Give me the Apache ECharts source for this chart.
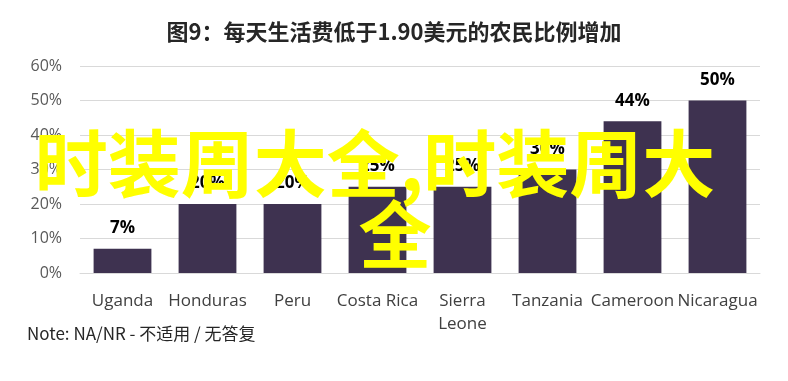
<!DOCTYPE html>
<html><head><meta charset="utf-8">
<script src="https://cdn.jsdelivr.net/npm/echarts@6/dist/echarts.min.js"></script>
<style>html,body{margin:0;padding:0;background:#fff}#c{width:788px;height:381px}</style>
</head><body><div id="c"></div>
<script>
const categories = ['Uganda','Honduras','Peru','Costa Rica','Sierra\nLeone','Tanzania','Cameroon','Nicaragua'];
const values = [7,20,20,25,25,30,44,50];
const yTicks = [0,10,20,30,40,50,60];
const titleText = '图9：每天生活费低于1.90美元的农民比例增加';
const noteText = 'Note: NA/NR - 不适用 / 无答复';
const watermark1 = '时装周大全,时装周大';
const watermark2 = '全';

const chart = echarts.init(document.getElementById('c'));
chart.setOption({
  animation:false,
  title:{text:titleText,left:'center',top:16,textStyle:{fontFamily:'Noto Sans CJK SC',fontSize:22,fontWeight:'bold',color:'#262626'}},
  grid:{left:80,right:28,top:66,bottom:108},
  xAxis:{type:'category',data:categories,
    axisLine:{lineStyle:{color:'#d9d9d9'}},axisTick:{show:false},
    axisLabel:{color:'#404040',fontFamily:'Liberation Sans Narrow, Open Sans',fontSize:17,lineHeight:23,margin:17,interval:0}},
  yAxis:{type:'value',min:yTicks[0],max:yTicks[yTicks.length-1],interval:10,
    axisLine:{show:false},axisTick:{show:false},
    splitLine:{lineStyle:{color:'#d9d9d9'}},
    axisLabel:{formatter:'{value}%',color:'#595959',fontFamily:'Open Sans',fontSize:16,margin:18}},
  series:[{type:'bar',data:values,barCategoryGap:'32%',itemStyle:{color:'#3e3250'},
    label:{show:true,position:'top',distance:12,formatter:'{c}%',color:'#000',fontFamily:'Open Sans',fontWeight:'bold',fontSize:17}}],
  graphic:[
    {type:'text',left:27,top:325,style:{text:noteText,fontFamily:'Noto Sans CJK SC',fontSize:17,fill:'#262626'}},
    {type:'text',x:375,y:163,z:100,style:{text:watermark1,textAlign:'center',textVerticalAlign:'middle',fontFamily:'Noto Sans CJK SC',fontWeight:'bold',fontSize:73,fill:'#ffff00'}},
    {type:'text',x:395,y:234,z:100,style:{text:watermark2,textAlign:'center',textVerticalAlign:'middle',fontFamily:'Noto Sans CJK SC',fontWeight:'bold',fontSize:73,fill:'#ffff00'}}
  ]
});
</script></body></html>
